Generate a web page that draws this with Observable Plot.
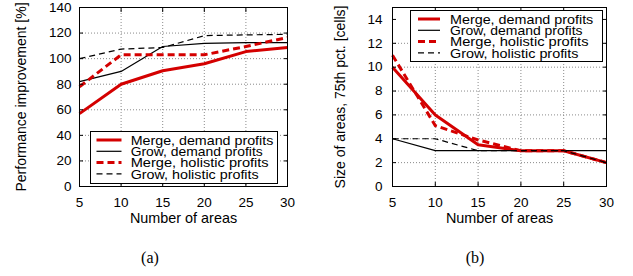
<!DOCTYPE html>
<html><head><meta charset="utf-8">
<script src="https://cdn.jsdelivr.net/npm/d3@7"></script>
<script src="https://cdn.jsdelivr.net/npm/@observablehq/plot@0.6"></script>
<style>
body{margin:0;background:#fff;}
#wrap{position:relative;width:633px;height:276px;overflow:hidden;font-family:"Liberation Sans",Arial,sans-serif;background:#fff;}
.chart{position:absolute;top:0;}
.overlay{position:absolute;top:0;left:0;pointer-events:none;}
.cap{position:absolute;font-family:"Liberation Serif","Times New Roman",serif;font-size:16px;line-height:16px;transform:translate(-50%,-50%);white-space:nowrap;}
</style></head><body><div id="wrap"></div>
<script>
// ---- data ----
const areas = [5, 10, 15, 20, 25, 30];
const seriesNames = ["Merge, demand profits", "Grow, demand profits", "Merge, holistic profits", "Grow, holistic profits"];

// (a) Performance improvement [%]
const perfMergeDemand   = [57, 80, 90.5, 96, 105.5, 108.7];
const perfGrowDemand    = [82, 90, 109.5, 112, 112.6, 112.6];
const perfMergeHolistic = [78, 103, 103, 103, 109.5, 116.5];
const perfGrowHolistic  = [100, 107.5, 108.7, 118, 118.6, 119];

// (b) Size of areas, 75th pct. [cells]
const sizeMergeDemand   = [10, 6, 3.5, 3, 3, 2];
const sizeGrowDemand    = [4, 3, 3, 3, 3, 3];
const sizeMergeHolistic = [11, 5.1, 3.9, 3, 3, 2];
const sizeGrowHolistic  = [4, 4, 3, 3, 3, 2];

const xTicks = [5, 10, 15, 20, 25, 30];
const perfTicks = [0, 20, 40, 60, 80, 100, 120, 140];
const sizeTicks = [0, 2, 4, 6, 8, 10, 12, 14];

// ---- styles ----
const RED = "#d40000";
const styles = [
  {stroke: RED, strokeWidth: 3, dash: null},
  {stroke: "#000", strokeWidth: 1.2, dash: null},
  {stroke: RED, strokeWidth: 3, dash: "7,4"},
  {stroke: "#000", strokeWidth: 1.2, dash: "6,4"}
];
const FONT = '"Liberation Sans", Arial, sans-serif';

const wrap = document.getElementById("wrap");

function makeChart(cfg) {
  const series = cfg.values;
  const rows = [];
  seriesNames.forEach((s, i) => areas.forEach((a, j) => rows.push({series: s, idx: i, x: a, y: series[i][j]})));
  const inner = cfg.yTicks.slice(1, -1);
  const innerX = xTicks.slice(1, -1);
  const gridStyle = {stroke: "#8a8a8a", strokeOpacity: 1, strokeDasharray: "1,2", strokeWidth: 1};
  const marks = [
    Plot.gridX(innerX, gridStyle),
    Plot.gridY(inner, gridStyle),
    ...seriesNames.map((s, i) => Plot.line(rows.filter(r => r.idx === i), {
      x: "x", y: "y", stroke: styles[i].stroke, strokeWidth: styles[i].strokeWidth,
      strokeDasharray: styles[i].dash, strokeLinejoin: "round", strokeLinecap: "butt"
    })),
    Plot.axisX(xTicks, {anchor: "bottom", tickSize: 0, tickPadding: 11, fontSize: 13.5, label: null, tickFormat: d => String(d)}),
    Plot.axisY(cfg.yTicks, {anchor: "left", tickSize: 0, tickPadding: cfg.yPad, fontSize: 13.5, label: null, tickFormat: d => String(d)}),
    Plot.axisX(xTicks, {anchor: "bottom", tickSize: -4, tickFormat: () => "", label: null}),
    Plot.axisX(xTicks, {anchor: "top", tickSize: -4, tickFormat: () => "", label: null}),
    Plot.axisY(cfg.yTicks, {anchor: "left", tickSize: -4, tickFormat: () => "", label: null}),
    Plot.axisY(cfg.yTicks, {anchor: "right", tickSize: -4, tickFormat: () => "", label: null}),
    Plot.frame({stroke: "#000", strokeWidth: 1}),
    Plot.text(["Number of areas"], {frameAnchor: "bottom", textAnchor: "middle", dy: 36.2, fontSize: 14.4, fill: "#000"}),
    Plot.text([cfg.yLabel], {frameAnchor: "left", textAnchor: "middle", rotate: -90, dx: cfg.yLabelDx, fontSize: 14, fill: "#000"})
  ];
  const svg = Plot.plot({
    width: cfg.width, height: 235,
    marginLeft: cfg.marginLeft, marginRight: cfg.marginRight, marginTop: 7, marginBottom: 49,
    x: {domain: [5, 30]},
    y: {domain: cfg.yDomain},
    style: {fontFamily: FONT, background: "transparent", color: "#000", overflow: "visible"},
    marks
  });
  svg.classList.add("chart");
  svg.style.left = cfg.left + "px";
  wrap.appendChild(svg);
}

makeChart({values: [perfMergeDemand, perfGrowDemand, perfMergeHolistic, perfGrowHolistic],
  yDomain: [0, 140], yTicks: perfTicks, yLabel: "Performance improvement [%]",
  width: 316, left: 0, marginLeft: 79, marginRight: 29, yPad: 8, yLabelDx: -57.8});
makeChart({values: [sizeMergeDemand, sizeGrowDemand, sizeMergeHolistic, sizeGrowHolistic],
  yDomain: [0, 15], yTicks: sizeTicks, yLabel: "Size of areas, 75th pct. [cells]",
  width: 317, left: 316, marginLeft: 76, marginRight: 27, yPad: 10, yLabelDx: -51.5});

// ---- legends ----
function legend(box, rows0, rowStep, lx0, lx1, tx, lens) {
  const svg = d3.create("svg").attr("class", "overlay").attr("width", 633).attr("height", 276);
  svg.append("rect").attr("x", box[0]).attr("y", box[1]).attr("width", box[2]).attr("height", box[3])
    .attr("fill", "#fff").attr("stroke", "#000").attr("stroke-width", 1);
  seriesNames.forEach((s, i) => {
    const y = rows0 + i * rowStep;
    svg.append("line").attr("x1", lx0).attr("x2", lx1).attr("y1", y).attr("y2", y)
      .attr("stroke", styles[i].stroke).attr("stroke-width", styles[i].strokeWidth)
      .attr("stroke-dasharray", styles[i].dash);
    svg.append("text").attr("x", tx).attr("y", y + 4.6).text(s)
      .attr("font-family", FONT).attr("font-size", 13)
      .attr("textLength", lens[i]).attr("lengthAdjust", "spacingAndGlyphs").attr("fill", "#000");
  });
  wrap.appendChild(svg.node());
}
legend([90.5, 131.5, 187, 52], 140, 11.3, 96.5, 121.5, 130.7, [142.6, 132, 138, 128]);
legend([410.5, 10.5, 192, 51], 19, 11.3, 418, 440, 450, [143.3, 132.5, 138.5, 128.5]);

// ---- captions ----
[["(a)", 150], ["(b)", 475]].forEach(([t, x]) => {
  const d = document.createElement("div");
  d.className = "cap"; d.textContent = t; d.style.left = x + "px"; d.style.top = "258px";
  wrap.appendChild(d);
});
</script></body></html>
